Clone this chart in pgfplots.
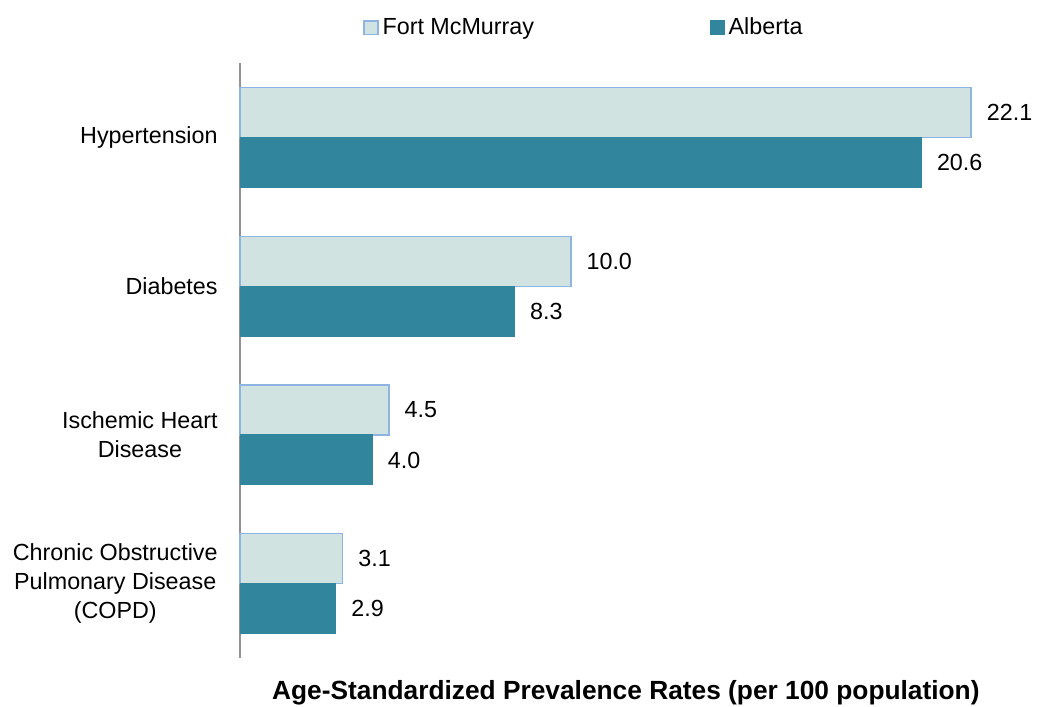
\documentclass[border=0pt]{standalone}
\usepackage{pgfplots}
\pgfplotsset{compat=1.18}
\usepackage{fontspec}
\setmainfont{Liberation Sans}
\definecolor{fmfill}{HTML}{D0E3E1}
\definecolor{fmedge}{HTML}{8DB4E2}
\definecolor{abfill}{HTML}{31859C}
\begin{document}
\begin{tikzpicture}
\path[use as bounding box] (0,0) rectangle (526.5bp,353.5bp);
\begin{axis}[
  at={(120bp,24.5bp)}, anchor=south west,
  scale only axis, width=397bp, height=297.35bp,
  xbar, bar width=25bp,
  xmin=0, xmax=24, ymin=-0.5, ymax=3.5,
  /pgf/number format/assume math mode=true,
  axis x line=bottom, axis y line=left, axis line style={-},
  x axis line style={draw=none},
  y axis line style={draw=gray!85, line width=0.75bp},
  xtick=\empty, ytick={0,1,2,3},
  yticklabels={{Chronic Obstructive\\Pulmonary Disease\\(COPD)},{Ischemic Heart\\Disease},Diabetes,Hypertension},
  major tick length=0pt,
  yticklabel style={align=center, inner sep=0pt, xshift=-11bp, font=\fontsize{11.7}{14.7}\selectfont},
  xlabel={\textbf{Age-Standardized Prevalence Rates (per 100 population)}},
  xlabel style={at={(rel axis cs:0.486,-0.0706)}, anchor=base, font=\fontsize{13.2}{16}\selectfont},
  point meta=x,
  nodes near coords={\pgfmathprintnumber[fixed,fixed zerofill,precision=1,assume math mode=true]{\pgfplotspointmeta}},
  nodes near coords style={anchor=west, inner sep=0pt, xshift=7.5bp, font=\fontsize{11.7}{14}\selectfont, text=black},
  legend columns=2,
  legend style={at={(rel axis cs:0.4345,1.060)}, anchor=center, draw=none, fill=none,
    font=\fontsize{11.7}{14}\selectfont, inner sep=0pt,
    /tikz/every even column/.append style={column sep=86bp}},
  legend image code/.code={\draw[#1] (0bp,-3.4bp) rectangle (6.8bp,3.4bp);},
  clip=false,
]
\addplot[fill=fmfill, draw=fmedge, line width=0.75bp, bar shift=12.5bp]
  coordinates {(3.1,0) (4.5,1) (10.0,2) (22.1,3)};
\addlegendentry{Fort McMurray}
\addplot[fill=abfill, draw=abfill, line width=0.5bp, bar shift=-12.5bp]
  coordinates {(2.9,0) (4.0,1) (8.3,2) (20.6,3)};
\addlegendentry{Alberta}
\end{axis}
\end{tikzpicture}
\end{document}
